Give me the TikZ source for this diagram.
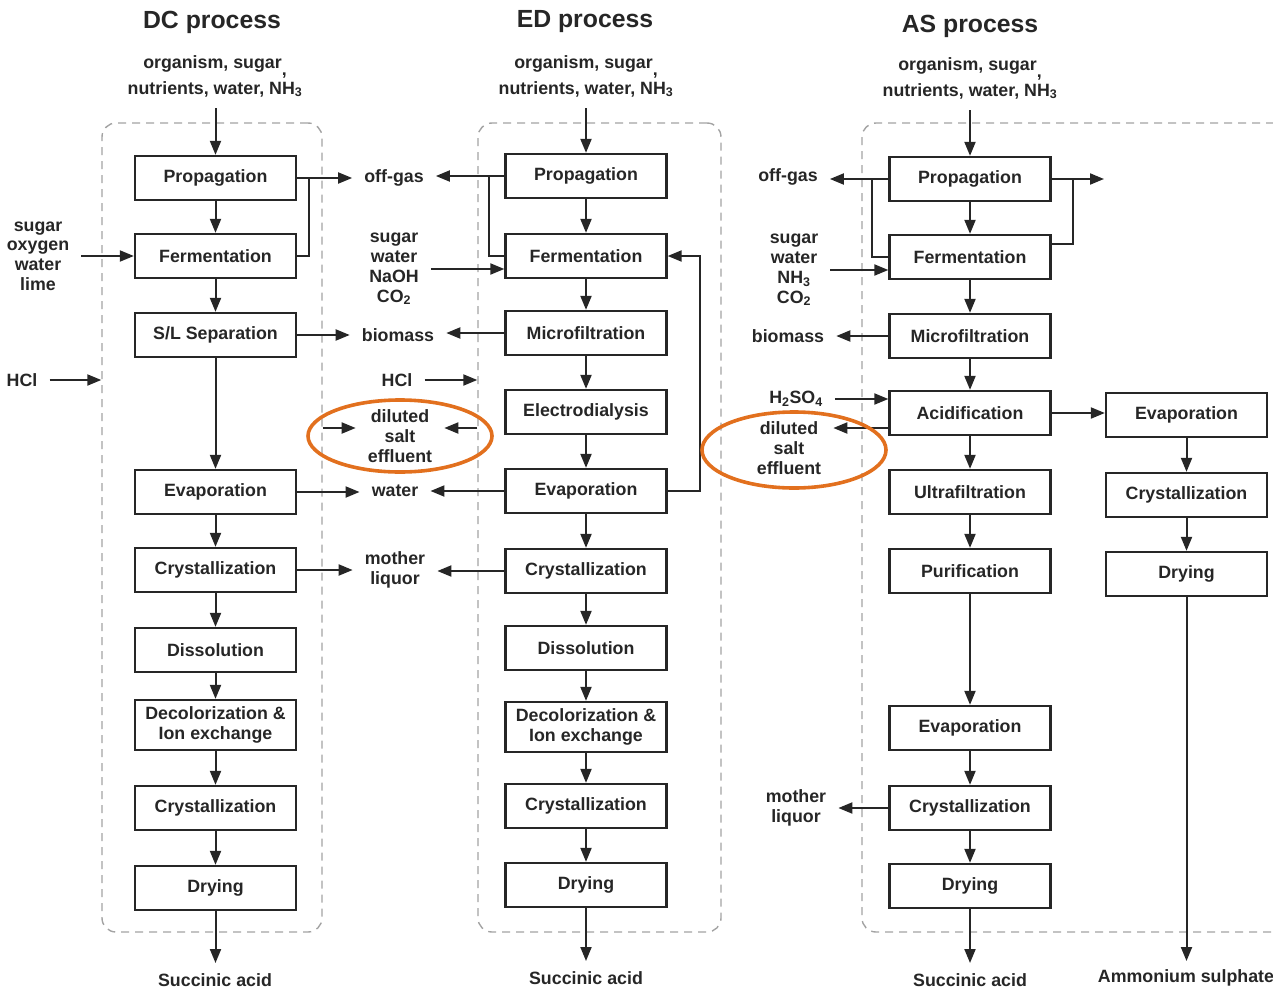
\documentclass[tikz,border=0pt]{standalone}
\usepackage{fontspec}
\setmainfont{Liberation Sans}
\usetikzlibrary{arrows.meta}

\definecolor{ink}{HTML}{262626}
\definecolor{frame}{HTML}{A3A3A3}
\definecolor{hilite}{HTML}{E2701E}

\begin{document}
\begin{tikzpicture}[x=1pt,y=-1pt,
  font=\fontsize{17.8}{19.8}\selectfont\bfseries,
  stage/.style={draw=ink,line width=2.3pt,minimum width=161pt,minimum height=44pt,
    inner sep=0pt,align=center,text=ink},
  lbl/.style={inner xsep=12pt,inner ysep=0pt,align=center,text=ink},
  flow/.style={draw=ink,line width=2pt,-{Triangle[length=14pt,width=11pt]}},
  link/.style={draw=ink,line width=2pt},
  zone/.style={draw=frame,line width=1.4pt,dash pattern=on 8pt off 6pt,
    rounded corners=14pt,inner sep=0pt},
  ring/.style={draw=hilite,line width=3.6pt},
  heading/.style={font=\fontsize{24.8}{28}\selectfont\bfseries,text=ink},
  feed/.style={align=center,text=ink,inner sep=0pt,font=\fontsize{17.8}{26}\selectfont\bfseries}
]
\useasboundingbox (0,0) rectangle (1273,990);
\clip (0,0) rectangle (1273,990);

% ---------- dashed process envelopes ----------
\node[zone,minimum width=220pt,minimum height=809pt] (dZone) at (212,527.5) {};
\node[zone,minimum width=243pt,minimum height=809pt] (eZone) at (599.5,527.5) {};
\node[zone,minimum width=440pt,minimum height=809pt] (aZone) at (1082,527.5) {};

% ---------- headings and raw materials ----------
\node[heading] (dTitle) at (212,22) {DC process};
\node[heading] (eTitle) at (585,22) {ED process};
\node[heading] (aTitle) at (970,26) {AS process};

\node[feed] (dIn) at (215,76) {organism, sugar\raisebox{-7pt}{,}\\nutrients, water, NH\textsubscript{3}};
\node[feed] (eIn) at (586,76) {organism, sugar\raisebox{-7pt}{,}\\nutrients, water, NH\textsubscript{3}};
\node[feed] (aIn) at (970,78) {organism, sugar\raisebox{-7pt}{,}\\nutrients, water, NH\textsubscript{3}};

\coordinate (dStart) at (215.5,108);
\coordinate (eStart) at (586,108);
\coordinate (aStart) at (970,110);

% ---------- DC process ----------
\node[stage] (dP)  at (215.5,178) {Propagation};
\node[stage] (dF)  at (215.5,256) {Fermentation};
\node[stage] (dS)  at (215.5,335) {S/L Separation};
\node[stage] (dE)  at (215.5,492) {Evaporation};
\node[stage] (dC1) at (215.5,570) {Crystallization};
\node[stage] (dDi) at (215.5,650) {Dissolution};
\node[stage,minimum height=50pt] (dDe) at (215.5,725) {Decolorization \&\\Ion exchange};
\node[stage] (dC2) at (215.5,808) {Crystallization};
\node[stage] (dDr) at (215.5,888) {Drying};
\coordinate (dEnd) at (215.5,963);
\node[lbl] (dOut) at (215,980) {Succinic acid};

\draw[flow] (dStart) -- (dP.north);
\draw[flow] (dP) -- (dF);
\draw[flow] (dF) -- (dS);
\draw[flow] (dS) -- (dE);
\draw[flow] (dE) -- (dC1);
\draw[flow] (dC1) -- (dDi);
\draw[flow] (dDi) -- (dDe);
\draw[flow] (dDe) -- (dC2);
\draw[flow] (dC2) -- (dDr);
\draw[flow] (dDr) -- (dEnd);

\node[lbl] (dFeed) at (38,256) {sugar\\oxygen\\water\\lime};
\node[lbl] (dHCl) at (22,380) {HCl};
\node[lbl] (dOff) at (394,178) {off-gas};
\node[lbl] (dBio) at (398,335) {biomass};
\node[lbl] (dSalt) at (400,436) {diluted\\salt\\effluent};
\node[lbl] (dWater) at (395,491) {water};
\node[lbl] (dML) at (395,570) {mother\\liquor};

\draw[flow] (dFeed.east |- dF.west) -- (dF.west);
\draw[flow] (dHCl.east) -- (dHCl.east -| dZone.west);
\draw[flow] (dP.east) -- (dP.east -| dOff.west);
\draw[link] (dF.east) -- ++(12,0) |- (dP.east);
\draw[flow] (dS.east) -- (dS.east -| dBio.west);
\draw[flow] ([yshift=8pt]dSalt.west -| dZone.east) -- ([yshift=8pt]dSalt.west);
\draw[flow] (dE.east) -- (dE.east -| dWater.west);
\draw[flow] (dC1.east) -- (dC1.east -| dML.west);

% ---------- ED process ----------
\node[stage] (eP)  at (586,176) {Propagation};
\node[stage] (eF)  at (586,256) {Fermentation};
\node[stage] (eM)  at (586,333) {Microfiltration};
\node[stage] (eEl) at (586,412) {Electrodialysis};
\node[stage] (eE)  at (586,491) {Evaporation};
\node[stage] (eC1) at (586,571) {Crystallization};
\node[stage] (eDi) at (586,648) {Dissolution};
\node[stage,minimum height=50pt] (eDe) at (586,727) {Decolorization \&\\Ion exchange};
\node[stage] (eC2) at (586,806) {Crystallization};
\node[stage] (eDr) at (586,885) {Drying};
\coordinate (eEnd) at (586,961);
\node[lbl] (eOut) at (586,978) {Succinic acid};

\draw[flow] (eStart) -- (eP.north);
\draw[flow] (eP) -- (eF);
\draw[flow] (eF) -- (eM);
\draw[flow] (eM) -- (eEl);
\draw[flow] (eEl) -- (eE);
\draw[flow] (eE) -- (eC1);
\draw[flow] (eC1) -- (eDi);
\draw[flow] (eDi) -- (eDe);
\draw[flow] (eDe) -- (eC2);
\draw[flow] (eC2) -- (eDr);
\draw[flow] (eDr) -- (eEnd);

\node[lbl] (eFeed) at (394,269) {sugar\\water\\NaOH\\CO\textsubscript{2}};
\node[lbl] (eHCl) at (397,380) {HCl};

\draw[flow] (eP.west) -- (eP.west -| dOff.east);
\draw[link] (eF.west) -- ++(-15,0) |- (eP.west);
\draw[flow] (eFeed.east) -- (eFeed.east -| eF.west);
\draw[flow] (eM.west) -- (eM.west -| dBio.east);
\draw[flow] (eHCl.east) -- (eHCl.east -| eZone.west);
\draw[flow] ([yshift=8pt]dSalt.east -| eZone.west) -- ([yshift=8pt]dSalt.east);
\draw[flow] (eE.west) -- (eE.west -| dWater.east);
\draw[flow] (eC1.west) -- (eC1.west -| dML.east);
\draw[flow] (eE.east) -- ++(32,0) |- (eF.east);

% ---------- AS process ----------
\node[stage] (aP)  at (970,179) {Propagation};
\node[stage] (aF)  at (970,257) {Fermentation};
\node[stage] (aM)  at (970,336) {Microfiltration};
\node[stage] (aA)  at (970,413) {Acidification};
\node[stage] (aU)  at (970,492) {Ultrafiltration};
\node[stage] (aPu) at (970,571) {Purification};
\node[stage] (aE)  at (970,728) {Evaporation};
\node[stage] (aC)  at (970,808) {Crystallization};
\node[stage] (aD)  at (970,886) {Drying};
\coordinate (aEnd) at (970,963);
\node[lbl] (aOut) at (970,980) {Succinic acid};

\node[stage] (rE) at (1186.5,415) {Evaporation};
\node[stage] (rC) at (1186.5,495) {Crystallization};
\node[stage] (rD) at (1186.5,574) {Drying};
\coordinate (rEnd) at (1186.5,961);
\node[lbl] (rOut) at (1186,978) {Ammonium sulphate};

\draw[flow] (aStart) -- (aP.north);
\draw[flow] (aP) -- (aF);
\draw[flow] (aF) -- (aM);
\draw[flow] (aM) -- (aA);
\draw[flow] (aA) -- (aU);
\draw[flow] (aU) -- (aPu);
\draw[flow] (aPu) -- (aE);
\draw[flow] (aE) -- (aC);
\draw[flow] (aC) -- (aD);
\draw[flow] (aD) -- (aEnd);
\draw[flow] (aA.east) -- (aA.east -| rE.west);
\draw[flow] (rE) -- (rC);
\draw[flow] (rC) -- (rD);
\draw[flow] (rD) -- (rEnd);

\node[lbl] (aOff) at (788,177) {off-gas};
\node[lbl] (aFeed) at (794,270) {sugar\\water\\NH\textsubscript{3}\\CO\textsubscript{2}};
\node[lbl] (aBio) at (788,336) {biomass};
\node[lbl] (aAcid) at (796,399) {H\textsubscript{2}SO\textsubscript{4}};
\node[lbl] (aSalt) at (789,448) {diluted\\salt\\effluent};
\node[lbl] (aML) at (796,808) {mother\\liquor};
\coordinate (aVent) at (1104,179);

\draw[flow] (aP.west) -- (aP.west -| aOff.east);
\draw[link] (aF.west) -- ++(-16,0) |- (aP.west);
\draw[flow] (aP.east) -- (aVent);
\draw[link] ([yshift=13pt]aF.east) -- ++(21,0) |- (aP.east);
\draw[flow] (aFeed.east) -- (aFeed.east -| aF.west);
\draw[flow] (aM.west) -- (aM.west -| aBio.east);
\draw[flow] (aAcid.east) -- (aAcid.east -| aA.west);
\draw[flow] ([yshift=-15pt]aA.west) -- ([yshift=-15pt]aA.west -| aSalt.east);
\draw[flow] (aC.west) -- (aC.west -| aML.east);

% ---------- highlighted effluent streams ----------
\draw[ring] (dSalt.center) ellipse [x radius=92, y radius=36];
\draw[ring] ([xshift=5pt,yshift=-2pt]aSalt.center) ellipse [x radius=92, y radius=38];
\end{tikzpicture}
\end{document}
